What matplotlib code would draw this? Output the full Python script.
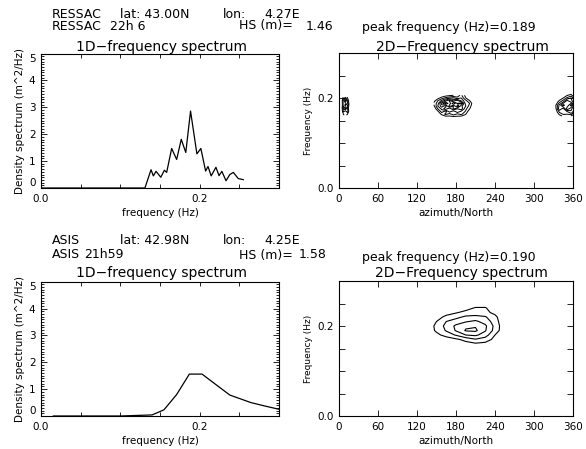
import matplotlib
matplotlib.use("Agg")
import matplotlib.pyplot as plt
import numpy as np

plt.rcParams['font.family'] = 'DejaVu Sans'

# ---- 1D spectra ----
ressac_freq = [0.0, 0.131, 0.1387, 0.1416, 0.145, 0.151, 0.1555, 0.1584, 0.1647, 0.171,
               0.1768, 0.1825, 0.1885, 0.1965, 0.2015, 0.2075, 0.2105, 0.2145, 0.2205,
               0.2244, 0.2280, 0.2332, 0.2380, 0.2424, 0.2487, 0.2550]
ressac_dens = [0, 0, 0.68, 0.45, 0.62, 0.40, 0.66, 0.58, 1.47, 1.06,
               1.81, 1.32, 2.86, 1.27, 1.47, 0.63, 0.80, 0.45, 0.77,
               0.46, 0.62, 0.27, 0.50, 0.58, 0.35, 0.31]

asis_freq = [0.0156, 0.10, 0.140, 0.155, 0.171, 0.187, 0.203, 0.220, 0.238, 0.2645, 0.281, 0.300]
asis_dens = [0, 0, 0.04, 0.23, 0.80, 1.56, 1.56, 1.18, 0.78, 0.50, 0.38, 0.25]

# ---- 2D spectra (azimuth deg x frequency Hz) ----
# RESSAC: three noisy blobs
ressac_c_az = [146, 152, 158, 164, 170, 176, 182, 188, 194, 200, 206]
ressac_c_f = [0.158, 0.164, 0.170, 0.176, 0.182, 0.188, 0.194, 0.200, 0.206]
ressac_c_e = [[0.0, 0.0, 0.0, 0.2, 0.3, 0.3, 0.3, 0.2, 0.0, 0.0, 0.0],
              [0.0, 0.0, 0.5, 0.9, 0.6, 1.0, 0.7, 0.9, 0.5, 0.0, 0.0],
              [0.0, 0.3, 1.0, 0.6, 1.4, 0.9, 1.5, 1.1, 0.8, 0.2, 0.0],
              [0.0, 0.8, 1.3, 1.9, 1.2, 2.1, 1.6, 1.9, 1.0, 0.5, 0.0],
              [0.3, 1.2, 1.8, 1.4, 2.6, 2.0, 2.9, 1.7, 1.3, 0.7, 0.1],
              [0.5, 1.0, 2.2, 2.9, 2.1, 3.2, 2.4, 2.6, 1.2, 0.9, 0.2],
              [0.2, 0.8, 1.3, 1.8, 2.5, 1.9, 2.2, 1.5, 1.0, 0.5, 0.0],
              [0.0, 0.2, 0.6, 0.9, 1.1, 1.3, 0.9, 1.2, 0.5, 0.0, 0.0],
              [0.0, 0.0, 0.0, 0.2, 0.3, 0.4, 0.6, 0.9, 0.3, 0.0, 0.0]]

ressac_l_az = [4, 7, 10, 13, 16]
ressac_l_f = [0.162, 0.170, 0.178, 0.186, 0.194, 0.202]
ressac_l_e = [[0, 0.3, 0.6, 0.2, 0],
              [0, 0.9, 0.5, 1.1, 0],
              [0, 1.4, 2.0, 0.8, 0],
              [0, 1.0, 0.7, 1.6, 0],
              [0, 1.2, 1.9, 0.9, 0],
              [0, 0.5, 0.7, 0.3, 0]]

ressac_r_az = [333, 339, 345, 351, 357, 363]
ressac_r_f = [0.160, 0.168, 0.176, 0.184, 0.192, 0.200, 0.208]
ressac_r_e = [[0.0, 0.2, 0.5, 0.7, 0.4, 0.0],
              [0.0, 0.8, 1.2, 0.9, 1.5, 0.6],
              [0.2, 1.5, 1.0, 2.3, 1.7, 1.2],
              [0.3, 1.3, 2.2, 1.6, 2.6, 1.4],
              [0.0, 0.6, 1.1, 2.0, 1.4, 0.8],
              [0.0, 0.0, 0.4, 0.9, 1.2, 0.4],
              [0.0, 0.0, 0.0, 0.2, 0.4, 0.0]]

# ASIS: one smooth peak
asis_az = [135, 150, 165, 180, 195, 210, 225, 240, 255]
asis_f = [0.15, 0.16, 0.17, 0.18, 0.19, 0.20, 0.21, 0.22, 0.23, 0.24, 0.25]
asis_e = [[0, 0, 0, 0, 0, 0.3, 0.3, 0, 0],
          [0, 0, 0, 0.3, 0.6, 0.8, 0.7, 0.3, 0],
          [0, 0, 0.4, 0.8, 1.3, 1.9, 1.5, 0.7, 0],
          [0, 0.7, 1.4, 2.1, 3.0, 3.2, 2.5, 1.0, 0],
          [0.2, 1.2, 2.1, 3.1, 4.1, 4.2, 3.1, 1.6, 0.2],
          [0.2, 1.3, 2.3, 3.2, 3.8, 3.9, 3.2, 1.7, 0.2],
          [0, 1.0, 2.0, 2.5, 2.9, 3.2, 2.6, 1.5, 0.1],
          [0, 0.5, 1.3, 1.7, 2.2, 2.3, 2.1, 1.3, 0],
          [0, 0, 0.5, 0.9, 1.3, 1.4, 1.3, 0.7, 0],
          [0, 0, 0, 0.3, 0.6, 1.1, 1.1, 0.3, 0],
          [0, 0, 0, 0, 0, 0.3, 0.3, 0, 0]]

W, H = 586, 449
fig = plt.figure(figsize=(W / 100, H / 100), dpi=100)


def box(x0, y0, x1, y1):
    # pixel box (top-left origin) -> figure fraction rect
    return [x0 / W, 1 - y1 / H, (x1 - x0) / W, (y1 - y0) / H]


def ftext(x, y, s, size=9, ha='left'):
    fig.text(x / W, 1 - y / H, s, fontsize=size, ha=ha, va='baseline')


def style(ax):
    for sp in ax.spines.values():
        sp.set_linewidth(0.8)
    ax.tick_params(which='both', direction='in', top=True, right=True,
                   labelsize=7.5, width=0.6, pad=4)
    ax.tick_params(which='major', length=4)
    ax.tick_params(which='minor', length=2)


def spectrum_1d(ax, freq, dens):
    ax.plot(freq, dens, color='k', lw=0.9)
    ax.set_xlim(0, 0.3)
    ax.set_ylim(0, 5)
    ax.set_xticks([0.0, 0.05, 0.1, 0.15, 0.2, 0.25, 0.3])
    ax.set_xticklabels(['0.0', '', '', '', '0.2', '', ''])
    ax.set_yticks([0, 1, 2, 3, 4, 5])
    ax.set_yticks(np.arange(0, 5.01, 0.1), minor=True)
    style(ax)
    ax.tick_params(axis='x', which='major', length=3)
    ax.set_xlabel('frequency (Hz)', fontsize=7.5, labelpad=3)
    ax.set_ylabel('Density spectrum (m^2/Hz)', fontsize=7.5, labelpad=3)
    labs = ax.get_yticklabels()
    labs[0].set_va('bottom')
    labs[-1].set_va('top')


def spectrum_2d(ax):
    ax.set_xlim(0, 360)
    ax.set_ylim(0, 0.3)
    ax.set_xticks([0, 60, 120, 180, 240, 300, 360])
    ax.set_yticks([0.0, 0.05, 0.1, 0.15, 0.2, 0.25, 0.3])
    ax.set_yticklabels(['0.0', '', '', '', '0.2', '', ''])
    style(ax)
    ax.set_xlabel('azimuth/North', fontsize=7.5, labelpad=3)
    ax.set_ylabel('Frequency (Hz)', fontsize=6.5, labelpad=3)


# ---------------- RESSAC ----------------
ax1 = fig.add_axes(box(41, 53.5, 279, 188))
spectrum_1d(ax1, ressac_freq, ressac_dens)

ax2 = fig.add_axes(box(339, 53, 573, 188))
lev_r = [0.4, 0.8, 1.2, 1.6, 2.0, 2.4, 2.8]
for az, f, e in [(ressac_c_az, ressac_c_f, ressac_c_e),
                 (ressac_l_az, ressac_l_f, ressac_l_e),
                 (ressac_r_az, ressac_r_f, ressac_r_e)]:
    ax2.contour(az, f, np.array(e), levels=lev_r, colors='k', linewidths=0.7)
spectrum_2d(ax2)

ftext(52, 17.5, 'RESSAC')
ftext(120.5, 17.5, 'lat: 43.00N')
ftext(222.5, 17.5, 'lon:')
ftext(300, 17.5, '4.27E', ha='right')
ftext(52, 29.5, 'RESSAC')
ftext(110.5, 29.5, '22h 6')
ftext(293, 29.5, 'HS (m)=', ha='right')
ftext(333, 29.5, '1.46', ha='right')
ftext(362.5, 31, 'peak frequency (Hz)=0.189')
ftext(162, 51, '1D\u2212frequency spectrum', size=10, ha='center')
ftext(462, 51, '2D\u2212Frequency spectrum', size=10, ha='center')

# ---------------- ASIS ----------------
ax3 = fig.add_axes(box(41, 281.7, 279, 416))
spectrum_1d(ax3, asis_freq, asis_dens)

ax4 = fig.add_axes(box(339, 281, 573, 416))
ax4.contour(asis_az, asis_f, np.array(asis_e), levels=[1.0, 2.0, 3.0, 4.0],
            colors='k', linewidths=0.8)
spectrum_2d(ax4)

ftext(52, 243.5, 'ASIS')
ftext(120.5, 243.5, 'lat: 42.98N')
ftext(222.5, 243.5, 'lon:')
ftext(300, 243.5, '4.25E', ha='right')
ftext(52, 258.5, 'ASIS')
ftext(84, 258.5, '21h59')
ftext(293, 258.5, 'HS (m)=', ha='right')
ftext(327, 258.5, '1.58', ha='right')
ftext(362.5, 260.5, 'peak frequency (Hz)=0.190')
ftext(162, 277, '1D\u2212frequency spectrum', size=10, ha='center')
ftext(461, 277, '2D\u2212Frequency spectrum', size=10, ha='center')

fig.savefig('out.png', dpi=100)
